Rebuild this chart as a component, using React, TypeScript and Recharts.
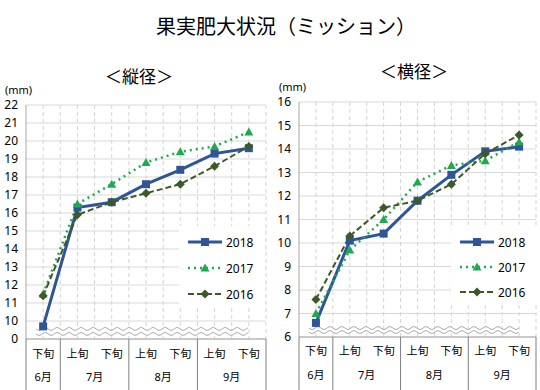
import React from "react"
import { CartesianGrid, Line, LineChart, ReferenceArea, XAxis, YAxis } from "recharts"

// categories: month + period (上旬 / 下旬)
const months = ["6月", "7月", "7月", "8月", "8月", "9月", "9月"]
const periods = ["下旬", "上旬", "下旬", "上旬", "下旬", "上旬", "下旬"]
const categories = months.map((m, i) => m + periods[i])

const series = ["2018", "2017", "2016"]

// 縦径 (mm)
const tate2018 = [9.7, 16.3, 16.6, 17.6, 18.4, 19.3, 19.6]
const tate2017 = [11.5, 16.5, 17.6, 18.8, 19.4, 19.7, 20.5]
const tate2016 = [11.4, 15.9, 16.6, 17.1, 17.6, 18.6, 19.7]
const tateTicks = [9, 10, 11, 12, 13, 14, 15, 16, 17, 18, 19, 20, 21, 22]

// 横径 (mm)
const yoko2018 = [6.6, 10.1, 10.4, 11.8, 12.9, 13.9, 14.1]
const yoko2017 = [7.0, 9.7, 11.0, 12.6, 13.3, 13.5, 14.3]
const yoko2016 = [7.6, 10.3, 11.5, 11.8, 12.5, 13.8, 14.6]
const yokoTicks = [6, 7, 8, 9, 10, 11, 12, 13, 14, 15, 16]

const COLORS: Record<string, string> = {
  "2018": "#2F5597",
  "2017": "#1FAA50",
  "2016": "#3B5A27",
}

const FONT = '"Noto Sans", "Noto Sans CJK JP", sans-serif'

function buildData(a: number[], b: number[], c: number[]) {
  return categories.map((cat, i) => ({ cat, "2018": a[i], "2017": b[i], "2016": c[i] }))
}

function Marker({ name, cx, cy }: { name: string; cx: number; cy: number }) {
  const c = COLORS[name]
  if (name === "2018") return <rect x={cx - 4} y={cy - 4} width={8} height={8} fill={c} />
  if (name === "2017")
    return <polygon points={`${cx},${cy - 4.5} ${cx - 4.5},${cy + 3.5} ${cx + 4.5},${cy + 3.5}`} fill={c} />
  return <polygon points={`${cx},${cy - 4.5} ${cx + 4.5},${cy} ${cx},${cy + 4.5} ${cx - 4.5},${cy}`} fill={c} />
}

const LINE_STYLE: Record<string, { width: number; dash?: string }> = {
  "2018": { width: 3 },
  "2017": { width: 2.5, dash: "2 4" },
  "2016": { width: 2, dash: "6 3" },
}

function wavePoints(x0: number, x1: number, y: number) {
  const pts: string[] = []
  for (let x = x0; x <= x1; x += 1) {
    pts.push(`${x},${(y + 1.4 * Math.sin(((x - x0) / 12) * Math.PI * 2)).toFixed(2)}`)
  }
  return pts
}

function BreakShape(props: any) {
  const { x, y, width, height } = props
  const x0 = x - 7
  const x1 = x + width
  const top = wavePoints(x0, x1, y)
  const bottom = wavePoints(x0, x1, y + height)
  const fill = "M" + top.join(" L") + " L" + bottom.slice().reverse().join(" L") + " Z"
  return (
    <g>
      <path d={fill} fill="#fff" stroke="none" />
      <path d={"M" + top.join(" L")} fill="none" stroke="#a6a6a6" strokeWidth={1} />
      <path d={"M" + bottom.join(" L")} fill="none" stroke="#a6a6a6" strokeWidth={1} />
    </g>
  )
}

function makeTick(band: number, row1: number, row2: number) {
  return (props: any) => {
    const { x, y, payload } = props
    const i = payload.index as number
    const month = months[i]
    const isStart = i === 0 || months[i - 1] !== month
    const count = months.filter((m) => m === month).length
    const isLast = i === months.length - 1
    return (
      <g>
        <text x={x} y={y + row1} textAnchor="middle" dominantBaseline="middle" fontSize={11} fill="#000">
          {periods[i]}
        </text>
        {isStart && (
          <>
            <line x1={x - band / 2} x2={x - band / 2} y1={y} y2={y + 60} stroke="#7f7f7f" />
            <text
              x={x - band / 2 + (band * count) / 2}
              y={y + row2}
              textAnchor="middle"
              dominantBaseline="middle"
              fontSize={11}
              fill="#000"
            >
              {month}
            </text>
          </>
        )}
        {isLast && <line x1={x + band / 2} x2={x + band / 2} y1={y} y2={y + 60} stroke="#7f7f7f" />}
      </g>
    )
  }
}

function Legend({ left, top, gap }: { left: number; top: number; gap: number }) {
  return (
    <div
      style={{
        position: "absolute",
        left,
        top,
        width: 86,
        height: gap * 3 + 2,
        background: "#fff",
      }}
    >
      {series.map((s, i) => {
        const st = LINE_STYLE[s]
        return (
          <div
            key={s}
            style={{ position: "absolute", left: 8, top: 16 + i * gap - 8, height: 16, display: "flex", alignItems: "center" }}
          >
            <svg width={36} height={12}>
              <line x1={1} x2={35} y1={6} y2={6} stroke={COLORS[s]} strokeWidth={st.width} strokeDasharray={st.dash} />
              <Marker name={s} cx={18} cy={6} />
            </svg>
            <span style={{ fontSize: 12, marginLeft: 3, color: "#000" }}>{s}</span>
          </div>
        )
      })}
    </div>
  )
}

type PanelProps = {
  x: number
  data: any[]
  ticks: number[]
  plotTop: number
  plotBottom: number
  plotLeft: number
  plotRight: number
  breakY: [number, number]
  fmt?: (v: number) => string
  row1: number
  row2: number
}

function Panel({ x, data, ticks, plotTop, plotBottom, plotLeft, plotRight, breakY, fmt, row1, row2 }: PanelProps) {
  const W = 270
  const H = 390
  const band = (plotRight - plotLeft) / categories.length
  return (
    <div style={{ position: "absolute", left: x, top: 0 }}>
      <LineChart width={W} height={H} data={data} margin={{ top: plotTop, right: W - plotRight, bottom: 0, left: 0 }}>
        <CartesianGrid vertical={false} stroke="#d9d9d9" />
        <CartesianGrid
          horizontal={false}
          stroke="#d4d4d4"
          strokeDasharray="4 3"
          verticalCoordinatesGenerator={({ offset }: any) =>
            Array.from({ length: categories.length * 2 }, (_, k) => offset.left + ((k + 1) * offset.width) / (categories.length * 2))
          }
        />
        <XAxis
          dataKey="cat"
          interval={0}
          height={H - plotBottom}
          padding={{ left: band / 2, right: band / 2 }}
          tickLine={false}
          tickSize={0}
          tickMargin={0}
          axisLine={{ stroke: "#a6a6a6" }}
          tick={makeTick(band, row1, row2)}
        />
        <YAxis
          type="number"
          domain={[ticks[0], ticks[ticks.length - 1]]}
          ticks={ticks}
          interval={0}
          width={plotLeft}
          tickLine={false}
          tickSize={0}
          tickMargin={8}
          axisLine={{ stroke: "#a6a6a6" }}
          tick={{ fill: "#000", fontSize: 12 }}
          tickFormatter={fmt}
        />
        <ReferenceArea y1={breakY[0]} y2={breakY[1]} ifOverflow="visible" shape={<BreakShape />} />
        {series.map((s) => (
          <Line
            key={s}
            dataKey={s}
            type="linear"
            stroke={COLORS[s]}
            strokeWidth={LINE_STYLE[s].width}
            strokeDasharray={LINE_STYLE[s].dash}
            dot={(p: any) => (
              <g key={`${s}-${p.index}`}>
                <Marker name={s} cx={p.cx} cy={p.cy} />
              </g>
            )}
            activeDot={false}
            isAnimationActive={false}
          />
        ))}
      </LineChart>
    </div>
  )
}

export default function App() {
  return (
    <div
      style={{
        position: "absolute",
        left: 0,
        top: 0,
        width: 540,
        height: 390,
        background: "#fff",
        overflow: "hidden",
        fontFamily: FONT,
        color: "#000",
      }}
    >
      <div style={{ position: "absolute", left: 12, width: 548, top: 15, fontSize: 20, lineHeight: "24px", textAlign: "center" }}>
        果実肥大状況（ミッション）
      </div>
      <div style={{ position: "absolute", left: 39, width: 200, top: 66, fontSize: 17, lineHeight: "22px", textAlign: "center" }}>
        ＜縦径＞
      </div>
      <div style={{ position: "absolute", left: 314, width: 200, top: 61, fontSize: 17, lineHeight: "22px", textAlign: "center" }}>
        ＜横径＞
      </div>
      <div style={{ position: "absolute", left: 5, top: 82, fontSize: 11, lineHeight: "16px" }}>(mm)</div>
      <div style={{ position: "absolute", left: 279, top: 79, fontSize: 11, lineHeight: "16px" }}>(mm)</div>

      <Panel
        x={0}
        data={buildData(tate2018, tate2017, tate2016)}
        ticks={tateTicks}
        plotTop={105}
        plotBottom={339}
        plotLeft={26}
        plotRight={266}
        breakY={[9.28, 9.56]}
        fmt={(v) => (v === 9 ? "0" : String(v))}
        row1={16}
        row2={39}
      />
      <Panel
        x={270}
        data={buildData(yoko2018, yoko2017, yoko2016)}
        ticks={yokoTicks}
        plotTop={102}
        plotBottom={337}
        plotLeft={29}
        plotRight={266}
        breakY={[6.21, 6.38]}
        row1={15}
        row2={39}
      />

      <Legend left={179} top={226} gap={26} />
      <Legend left={451} top={226} gap={25} />
    </div>
  )
}
